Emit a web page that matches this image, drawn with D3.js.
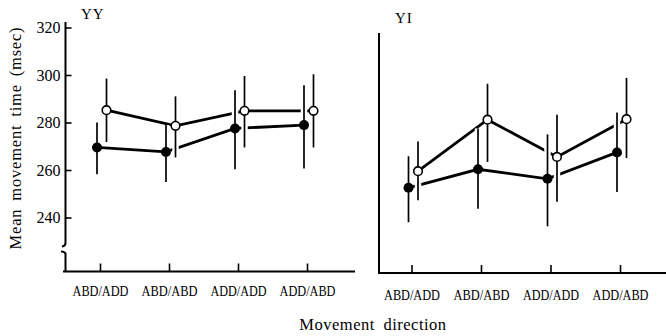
<!DOCTYPE html>
<html>
<head>
<meta charset="utf-8">
<script src="https://cdn.jsdelivr.net/npm/d3@7"></script>
<style>
  body { margin: 0; background: #fff; }
  svg { display: block; font-family: "Liberation Serif", "DejaVu Serif", serif; }
</style>
</head>
<body>
<svg width="666" height="336"></svg>
<script>
const width = 666;
const height = 336;

// data
const categories = ["ABD/ADD", "ABD/ABD", "ADD/ADD", "ADD/ABD"];
const yTicks = [240, 260, 280, 300, 320];

const yyFilled   = [269.5, 267.6, 277.5, 278.9];
const yyFilledLo = [258.2, 255.0, 260.3, 260.6];
const yyFilledHi = [280.0, 278.9, 293.6, 295.7];
const yyOpen     = [285.2, 278.6, 284.9, 284.9];
const yyOpenLo   = [271.8, 265.3, 269.5, 269.5];
const yyOpenHi   = [298.5, 291.0, 299.6, 300.3];

const yiFilled   = [252.5, 260.3, 256.3, 267.4];
const yiFilledLo = [238.0, 243.7, 236.3, 250.7];
const yiFilledHi = [265.8, 277.5, 275.0, 284.2];
const yiOpen     = [259.5, 281.2, 265.5, 281.4];
const yiOpenLo   = [247.3, 263.4, 246.6, 265.0];
const yiOpenHi   = [272.0, 296.3, 283.3, 298.8];

const svg = d3.select("svg");

const y = d3.scaleLinear().domain([240, 320]).range([217.5, 27.5]);

const series = (vals, lo, hi, filled) =>
  categories.map((c, i) => ({ cat: c, v: vals[i], lo: lo[i], hi: hi[i], filled }));

const panels = [
  {
    title: "YY", titleX: 81, titleY: 19,
    range: [100, 307], axisX: 65.5, axisTop: 22, axisBottom: 271.5, xEnd: 355,
    broken: true, labelPad: 14,
    data: [series(yyFilled, yyFilledLo, yyFilledHi, true), series(yyOpen, yyOpenLo, yyOpenHi, false)]
  },
  {
    title: "YI", titleX: 395, titleY: 22.5,
    range: [411.5, 620], axisX: 379, axisTop: 33, axisBottom: 273, xEnd: 666,
    broken: false, labelPad: 16,
    data: [series(yiFilled, yiFilledLo, yiFilledHi, true), series(yiOpen, yiOpenLo, yiOpenHi, false)]
  }
];

panels.forEach(p => {
  const x = d3.scalePoint().domain(categories).range(p.range);
  const px = d => x(d.cat) + (d.filled ? -3 : 6.5);
  const g = svg.append("g");

  // title
  g.append("text")
    .attr("x", p.titleX).attr("y", p.titleY)
    .attr("font-size", 15).attr("letter-spacing", 1)
    .text(p.title);

  // y axis line
  if (p.broken) {
    g.append("path")
      .attr("d", `M${p.axisX},${p.axisTop}V243q0,3 -3.5,3.5`)
      .attr("fill", "none").attr("stroke", "#000").attr("stroke-width", 2);
    g.append("path")
      .attr("d", `M61,251.5q3.5,0 4.5,2V${p.axisBottom}`)
      .attr("fill", "none").attr("stroke", "#000").attr("stroke-width", 2);

    const ya = g.append("g")
      .attr("transform", `translate(${p.axisX},0)`)
      .call(d3.axisLeft(y).tickValues(yTicks).tickSize(-6).tickPadding(5));
    ya.select(".domain").remove();
    ya.selectAll("line").attr("stroke-width", 1.6);
    ya.selectAll("text").attr("font-size", 17).attr("font-family", "Liberation Serif")
      .attr("textLength", 24).attr("lengthAdjust", "spacingAndGlyphs");
  } else {
    g.append("line")
      .attr("x1", p.axisX).attr("x2", p.axisX)
      .attr("y1", p.axisTop).attr("y2", p.axisBottom)
      .attr("stroke", "#000").attr("stroke-width", 2);
  }

  // x axis
  g.append("line")
    .attr("x1", p.axisX - (p.broken ? 2.5 : 1)).attr("x2", p.xEnd)
    .attr("y1", p.axisBottom).attr("y2", p.axisBottom)
    .attr("stroke", "#000").attr("stroke-width", 2);

  const xa = g.append("g")
    .attr("transform", `translate(0,${p.axisBottom})`)
    .call(d3.axisBottom(x).tickSize(-8).tickPadding(p.labelPad));
  xa.select(".domain").remove();
  xa.selectAll("line").attr("stroke-width", 1.6);
  xa.selectAll("text")
    .attr("font-size", 15).attr("font-family", "Liberation Serif")
    .attr("textLength", 56).attr("lengthAdjust", "spacingAndGlyphs");

  const line = d3.line().x(px).y(d => y(d.v));

  // connecting lines
  g.selectAll("path.conn")
    .data(p.data)
    .join("path")
    .attr("class", "conn")
    .attr("d", line)
    .attr("fill", "none").attr("stroke", "#000").attr("stroke-width", 2.8);

  const pts = p.data.flat();

  // white knockout behind error bars
  g.selectAll("line.halo")
    .data(pts)
    .join("line")
    .attr("class", "halo")
    .attr("x1", px).attr("x2", px)
    .attr("y1", d => y(d.hi)).attr("y2", d => y(d.lo))
    .attr("stroke", "#fff").attr("stroke-width", 6.5);

  g.selectAll("line.err")
    .data(pts)
    .join("line")
    .attr("class", "err")
    .attr("x1", px).attr("x2", px)
    .attr("y1", d => y(d.hi)).attr("y2", d => y(d.lo))
    .attr("stroke", "#000").attr("stroke-width", 1.7);

  g.selectAll("circle")
    .data(pts)
    .join("circle")
    .attr("cx", px).attr("cy", d => y(d.v))
    .attr("r", d => d.filled ? 5 : 4.3)
    .attr("fill", d => d.filled ? "#000" : "#fff")
    .attr("stroke", "#000").attr("stroke-width", d => d.filled ? 0 : 1.6);
});

// axis titles
svg.append("text")
  .attr("transform", "translate(21,138) rotate(-90)")
  .attr("text-anchor", "middle")
  .attr("font-size", 16.5).attr("letter-spacing", 0.8).attr("word-spacing", 3)
  .text("Mean movement time (msec)");

svg.append("text")
  .attr("x", 373).attr("y", 330)
  .attr("text-anchor", "middle")
  .attr("font-size", 16.5).attr("letter-spacing", 0.5).attr("word-spacing", 4)
  .text("Movement direction");
</script>
</body>
</html>
